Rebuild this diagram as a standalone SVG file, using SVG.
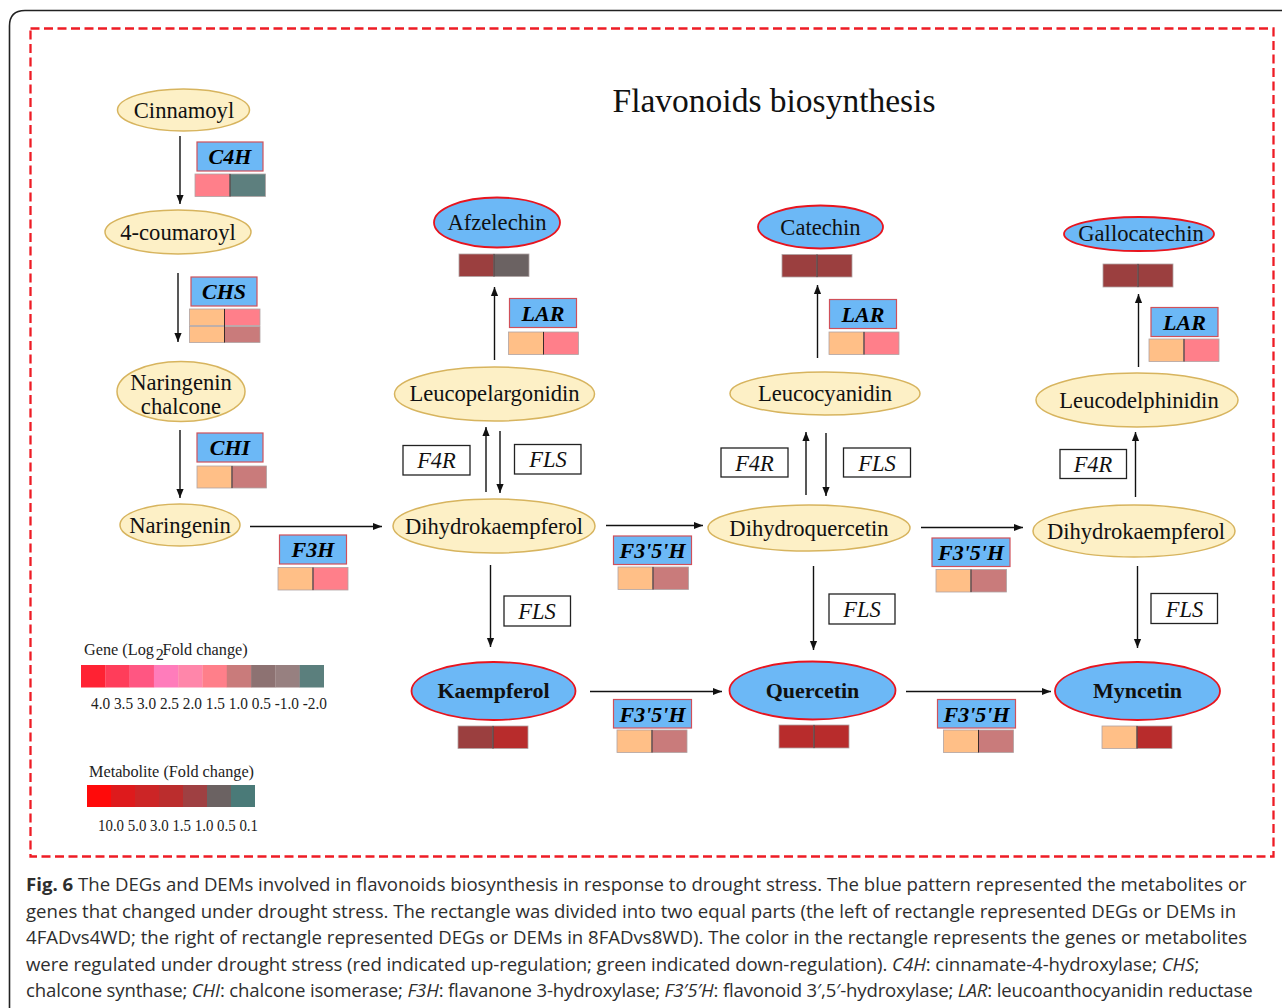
<svg xmlns="http://www.w3.org/2000/svg" width="1282" height="1008" viewBox="0 0 1282 1008">
<style>
.nt{font-family:"Liberation Serif","Times New Roman",serif;font-size:22.6px;fill:#111;text-anchor:middle}
.b{font-weight:bold;font-size:22px}
.cream{fill:#fdf0c6;stroke:#d7b45e;stroke-width:1.5}
.met{fill:#6cb8f6;stroke:#e8141e;stroke-width:1.8}
.gb{fill:#6cb8f6;stroke:#d0505a;stroke-width:1.2}
.gt{font-family:"Liberation Serif","Times New Roman",serif;font-size:22px;font-weight:bold;font-style:italic;fill:#000;text-anchor:middle}
.pb{fill:#fff;stroke:#222;stroke-width:1.3}
.pt{font-family:"Liberation Serif","Times New Roman",serif;font-size:22.5px;font-style:italic;fill:#111;text-anchor:middle}
.cell{stroke:#b0a4a4;stroke-width:0.8}
.div{stroke:#3a2a2a;stroke-width:1}
.pe{fill:#ffbf87}.pk{fill:#ff7f8a}.tl{fill:#5d7f7e}.rb{fill:#c97b7b}.dr{fill:#9b3f3f}.gr{fill:#6b6262}.rd{fill:#b82c2c}
.cap{font-family:"Open Sans","DejaVu Sans",sans-serif;font-size:18.6px;fill:#2e2e2e}
.lg{font-family:"Liberation Serif","Times New Roman",serif;font-size:17px;fill:#222}
.arr{stroke:#111;stroke-width:1.4;fill:none;marker-end:url(#ah)}
</style>
<defs>
<marker id="ah" viewBox="0 0 10 10" refX="10" refY="5" markerWidth="9" markerHeight="9" markerUnits="userSpaceOnUse" orient="auto">
<path d="M0,1 L10,5 L0,9 z" fill="#111"/>
</marker>
</defs>
<rect width="1282" height="1008" fill="#fff"/>
<path d="M9.5 1008 L9.5 26 Q9.5 10.5 25 10.5 L1282 10.5" fill="none" stroke="#222" stroke-width="1.6"/>
<rect x="30.5" y="28.5" width="1243" height="828" fill="none" stroke="#ee1c25" stroke-width="2.3" stroke-dasharray="9,4.5"/>

<text x="774" y="112" font-family="Liberation Serif,Times New Roman,serif" font-size="33.5" text-anchor="middle" fill="#111">Flavonoids biosynthesis</text>

<g id="connectors">
<line class="arr" x1="180" y1="136" x2="180" y2="204"/>
<line class="arr" x1="178" y1="273" x2="178" y2="342"/>
<line class="arr" x1="180" y1="430" x2="180" y2="498"/>
<line class="arr" x1="250" y1="526.5" x2="382" y2="526.5"/>
<line class="arr" x1="494.5" y1="360" x2="494.5" y2="287"/>
<line class="arr" x1="486" y1="492" x2="486" y2="427"/>
<line class="arr" x1="500" y1="431" x2="500" y2="493"/>
<line class="arr" x1="490.5" y1="565" x2="490.5" y2="647"/>
<line class="arr" x1="606" y1="525.5" x2="703" y2="525.5"/>
<line class="arr" x1="590" y1="691.5" x2="722" y2="691.5"/>
<line class="arr" x1="817.5" y1="358" x2="817.5" y2="285"/>
<line class="arr" x1="806" y1="495" x2="806" y2="432"/>
<line class="arr" x1="826" y1="433" x2="826" y2="496"/>
<line class="arr" x1="813.5" y1="566" x2="813.5" y2="650"/>
<line class="arr" x1="921" y1="527.5" x2="1023" y2="527.5"/>
<line class="arr" x1="906" y1="691.5" x2="1051" y2="691.5"/>
<line class="arr" x1="1137.5" y1="566" x2="1137.5" y2="648"/>
<line class="arr" x1="1138.5" y1="367" x2="1138.5" y2="294"/>
<line class="arr" x1="1135.5" y1="497" x2="1135.5" y2="432"/>
</g>

<g id="n-cinnamoyl"><ellipse class="cream" cx="183.5" cy="110" rx="66" ry="21"/><text class="nt" x="184" y="118">Cinnamoyl</text></g>
<g id="n-coumaroyl"><ellipse class="cream" cx="178" cy="232" rx="73" ry="22"/><text class="nt" x="178" y="240">4-coumaroyl</text></g>
<g id="n-chalcone"><ellipse class="cream" cx="181" cy="391.5" rx="64" ry="30"/><text class="nt" x="181" y="390">Naringenin</text><text class="nt" x="181" y="414">chalcone</text></g>
<g id="n-naringenin"><ellipse class="cream" cx="180" cy="525" rx="60" ry="21"/><text class="nt" x="180" y="533">Naringenin</text></g>

<g id="n-dhk1"><ellipse class="cream" cx="494" cy="526" rx="101" ry="27"/><text class="nt" x="494" y="534">Dihydrokaempferol</text></g>
<g id="n-leucopelargonidin"><ellipse class="cream" cx="494.5" cy="394" rx="100" ry="27"/><text class="nt" x="494.5" y="401">Leucopelargonidin</text></g>
<g id="n-afzelechin"><ellipse class="met" cx="497" cy="222.5" rx="63" ry="25"/><text class="nt" x="497" y="230">Afzelechin</text>
<rect class="cell dr" x="459" y="254" width="35" height="22.5"/><rect class="cell gr" x="494" y="254" width="35" height="22.5"/><line class="div" x1="494" y1="254" x2="494" y2="276.5"/></g>

<g id="n-dhq"><ellipse class="cream" cx="809" cy="528" rx="101" ry="23"/><text class="nt" x="809" y="536">Dihydroquercetin</text></g>
<g id="n-leucocyanidin"><ellipse class="cream" cx="825" cy="393.5" rx="95" ry="21.5"/><text class="nt" x="825" y="401">Leucocyanidin</text></g>
<g id="n-catechin"><ellipse class="met" cx="820.5" cy="227" rx="62.5" ry="21.5"/><text class="nt" x="820.5" y="235">Catechin</text>
<rect class="cell dr" x="782" y="254.5" width="35" height="22.5"/><rect class="cell dr" x="817" y="254.5" width="35" height="22.5"/><line class="div" x1="817" y1="254.5" x2="817" y2="277"/></g>

<g id="n-dhk2"><ellipse class="cream" cx="1134" cy="531" rx="101" ry="26"/><text class="nt" x="1136" y="539">Dihydrokaempferol</text></g>
<g id="n-leucodelphinidin"><ellipse class="cream" cx="1137" cy="400" rx="101" ry="27"/><text class="nt" x="1139" y="408">Leucodelphinidin</text></g>
<g id="n-gallocatechin"><ellipse class="met" cx="1139" cy="234" rx="75" ry="17"/><text class="nt" x="1141" y="241">Gallocatechin</text>
<rect class="cell dr" x="1103" y="264" width="35" height="23"/><rect class="cell dr" x="1138" y="264" width="35" height="23"/><line class="div" x1="1138" y1="264" x2="1138" y2="287"/></g>

<g id="n-kaempferol"><ellipse class="met" cx="493.5" cy="691" rx="82" ry="29"/><text class="nt b" x="493.5" y="698">Kaempferol</text>
<rect class="cell dr" x="458" y="726" width="35" height="22.5"/><rect class="cell rd" x="493" y="726" width="35" height="22.5"/><line class="div" x1="493" y1="726" x2="493" y2="748.5"/></g>
<g id="n-quercetin"><ellipse class="met" cx="812.5" cy="690.5" rx="83" ry="29"/><text class="nt b" x="812.5" y="698">Quercetin</text>
<rect class="cell rd" x="779" y="725" width="35" height="23"/><rect class="cell rd" x="814" y="725" width="35" height="23"/><line class="div" x1="814" y1="725" x2="814" y2="748"/></g>
<g id="n-myncetin"><ellipse class="met" cx="1137.5" cy="691" rx="82.5" ry="29"/><text class="nt b" x="1137.5" y="698">Myncetin</text>
<rect class="cell pe" x="1102" y="726" width="35" height="22.5"/><rect class="cell rd" x="1137" y="726" width="35" height="22.5"/><line class="div" x1="1137" y1="726" x2="1137" y2="748.5"/></g>

<g id="g-c4h"><rect class="gb" x="197" y="142" width="66" height="29"/><text class="gt" x="230" y="164">C4H</text>
<rect class="cell pk" x="195" y="174" width="35" height="22.5"/><rect class="cell tl" x="230" y="174" width="35.5" height="22.5"/><line class="div" x1="230" y1="174" x2="230" y2="196.5"/></g>
<g id="g-chs"><rect class="gb" x="191" y="277" width="66" height="29"/><text class="gt" x="224" y="299">CHS</text>
<rect class="cell pe" x="189.5" y="309" width="35" height="16.5"/><rect class="cell pk" x="224.5" y="309" width="35.5" height="16.5"/>
<rect class="cell pe" x="189.5" y="326.5" width="35" height="16"/><rect class="cell rb" x="224.5" y="326.5" width="35.5" height="16"/><line class="div" x1="224.5" y1="309" x2="224.5" y2="342.5"/></g>
<g id="g-chi"><rect class="gb" x="197" y="433" width="66" height="29"/><text class="gt" x="230" y="455">CHI</text>
<rect class="cell pe" x="197" y="466" width="35" height="22"/><rect class="cell rb" x="232" y="466" width="34.5" height="22"/><line class="div" x1="232" y1="466" x2="232" y2="488"/></g>
<g id="g-f3h"><rect class="gb" x="279.5" y="535" width="67" height="29"/><text class="gt" x="313" y="557">F3H</text>
<rect class="cell pe" x="278" y="567.5" width="35" height="22.5"/><rect class="cell pk" x="313" y="567.5" width="35" height="22.5"/><line class="div" x1="313" y1="567.5" x2="313" y2="590"/></g>

<g id="g-lar1"><rect class="gb" x="509.5" y="298.5" width="67" height="29"/><text class="gt" x="543" y="321">LAR</text>
<rect class="cell pe" x="508.5" y="332" width="35" height="22.5"/><rect class="cell pk" x="543.5" y="332" width="35" height="22.5"/><line class="div" x1="543.5" y1="332" x2="543.5" y2="354.5"/></g>
<g id="g-lar2"><rect class="gb" x="829.5" y="299.5" width="67" height="29"/><text class="gt" x="863" y="322">LAR</text>
<rect class="cell pe" x="829" y="332" width="35" height="22.5"/><rect class="cell pk" x="864" y="332" width="35" height="22.5"/><line class="div" x1="864" y1="332" x2="864" y2="354.5"/></g>
<g id="g-lar3"><rect class="gb" x="1151" y="307.5" width="67" height="29"/><text class="gt" x="1184.5" y="330">LAR</text>
<rect class="cell pe" x="1149" y="339" width="35" height="22.5"/><rect class="cell pk" x="1184" y="339" width="35" height="22.5"/><line class="div" x1="1184" y1="339" x2="1184" y2="361.5"/></g>

<g id="g-f35h1"><rect class="gb" x="613.5" y="536" width="78" height="28.5"/><text class="gt" x="652.5" y="558">F3'5'H</text>
<rect class="cell pe" x="618" y="567" width="35" height="22.5"/><rect class="cell rb" x="653" y="567" width="35.5" height="22.5"/><line class="div" x1="653" y1="567" x2="653" y2="589.5"/></g>
<g id="g-f35h2"><rect class="gb" x="932" y="538" width="78" height="28.5"/><text class="gt" x="971" y="560">F3'5'H</text>
<rect class="cell pe" x="936" y="569.5" width="35" height="22.5"/><rect class="cell rb" x="971" y="569.5" width="35.5" height="22.5"/><line class="div" x1="971" y1="569.5" x2="971" y2="592"/></g>
<g id="g-f35h3"><rect class="gb" x="613.5" y="699.5" width="78" height="28.5"/><text class="gt" x="652.5" y="722">F3'5'H</text>
<rect class="cell pe" x="617" y="730" width="35" height="22.5"/><rect class="cell rb" x="652" y="730" width="35" height="22.5"/><line class="div" x1="652" y1="730" x2="652" y2="752.5"/></g>
<g id="g-f35h4"><rect class="gb" x="937.5" y="699.5" width="78" height="28.5"/><text class="gt" x="976.5" y="722">F3'5'H</text>
<rect class="cell pe" x="943.5" y="730" width="35" height="22.5"/><rect class="cell rb" x="978.5" y="730" width="35" height="22.5"/><line class="div" x1="978.5" y1="730" x2="978.5" y2="752.5"/></g>

<g id="p-f4r1"><rect class="pb" x="403" y="445.5" width="67" height="29.5"/><text class="pt" x="436.5" y="468">F4R</text></g>
<g id="p-fls1"><rect class="pb" x="514.5" y="444.5" width="66.5" height="29.5"/><text class="pt" x="548" y="467">FLS</text></g>
<g id="p-f4r2"><rect class="pb" x="721" y="448" width="67" height="29"/><text class="pt" x="754.5" y="471">F4R</text></g>
<g id="p-fls2"><rect class="pb" x="843.5" y="448" width="67" height="29"/><text class="pt" x="877" y="471">FLS</text></g>
<g id="p-f4r3"><rect class="pb" x="1060" y="449.5" width="66.5" height="29"/><text class="pt" x="1093" y="472">F4R</text></g>
<g id="p-fls3"><rect class="pb" x="504" y="596" width="66.5" height="30"/><text class="pt" x="537" y="619">FLS</text></g>
<g id="p-fls4"><rect class="pb" x="829" y="594" width="66" height="30"/><text class="pt" x="862" y="617">FLS</text></g>
<g id="p-fls5"><rect class="pb" x="1151" y="593.5" width="66.5" height="30"/><text class="pt" x="1184.5" y="617">FLS</text></g>

<g id="legend-gene">
<g transform="translate(84 655) scale(0.956 1)">
<text class="lg" x="0" y="0">Gene (Log</text>
<text class="lg" x="75" y="5" font-size="10">2</text>
<text class="lg" x="82" y="0">Fold change)</text>
</g>
<rect x="81" y="665" width="24.5" height="22.5" fill="#ff2233"/>
<rect x="105.3" y="665" width="24.5" height="22.5" fill="#ff3d5a"/>
<rect x="129.6" y="665" width="24.5" height="22.5" fill="#ff5682"/>
<rect x="153.9" y="665" width="24.5" height="22.5" fill="#ff7cbb"/>
<rect x="178.2" y="665" width="24.5" height="22.5" fill="#ff86aa"/>
<rect x="202.5" y="665" width="24.5" height="22.5" fill="#ff7f8a"/>
<rect x="226.8" y="665" width="24.5" height="22.5" fill="#c97b7b"/>
<rect x="251.1" y="665" width="24.5" height="22.5" fill="#8d7272"/>
<rect x="275.4" y="665" width="24.5" height="22.5" fill="#978080"/>
<rect x="299.7" y="665" width="24.3" height="22.5" fill="#5b7f7d"/>
<text class="lg" x="91" y="708.5" font-size="19" textLength="236" lengthAdjust="spacingAndGlyphs">4.0 3.5 3.0 2.5 2.0 1.5 1.0 0.5 -1.0 -2.0</text>
</g>
<g id="legend-metabolite">
<text class="lg" x="89" y="777" textLength="165" lengthAdjust="spacingAndGlyphs">Metabolite (Fold change)</text>
<rect x="87" y="785" width="24.2" height="22" fill="#ff0a0a"/>
<rect x="111" y="785" width="24.2" height="22" fill="#de1a1c"/>
<rect x="135" y="785" width="24.2" height="22" fill="#cc2526"/>
<rect x="159" y="785" width="24.2" height="22" fill="#bb2d2d"/>
<rect x="183" y="785" width="24.2" height="22" fill="#9f4042"/>
<rect x="207" y="785" width="24.2" height="22" fill="#6b6262"/>
<rect x="231" y="785" width="24" height="22" fill="#4a7a78"/>
<text class="lg" x="98" y="830.5" font-size="19" textLength="160" lengthAdjust="spacingAndGlyphs">10.0 5.0 3.0 1.5 1.0 0.5 0.1</text>
</g>

<g id="caption">
<text class="cap" x="26" y="891"><tspan font-weight="bold">Fig. 6</tspan> The DEGs and DEMs involved in flavonoids biosynthesis in response to drought stress. The blue pattern represented the metabolites or</text>
<text class="cap" x="26" y="918">genes that changed under drought stress. The rectangle was divided into two equal parts (the left of rectangle represented DEGs or DEMs in</text>
<text class="cap" x="26" y="944">4FADvs4WD; the right of rectangle represented DEGs or DEMs in 8FADvs8WD). The color in the rectangle represents the genes or metabolites</text>
<text class="cap" x="26" y="971" letter-spacing="-0.06">were regulated under drought stress (red indicated up-regulation; green indicated down-regulation). <tspan font-style="italic">C4H</tspan>: cinnamate-4-hydroxylase; <tspan font-style="italic">CHS</tspan>;</text>
<text class="cap" x="26" y="997" letter-spacing="-0.17">chalcone synthase; <tspan font-style="italic">CHI</tspan>: chalcone isomerase; <tspan font-style="italic">F3H</tspan>: flavanone 3-hydroxylase; <tspan font-style="italic">F3′5′H</tspan>: flavonoid 3′,5′-hydroxylase; <tspan font-style="italic">LAR</tspan>: leucoanthocyanidin reductase</text>
</g>
</svg>
